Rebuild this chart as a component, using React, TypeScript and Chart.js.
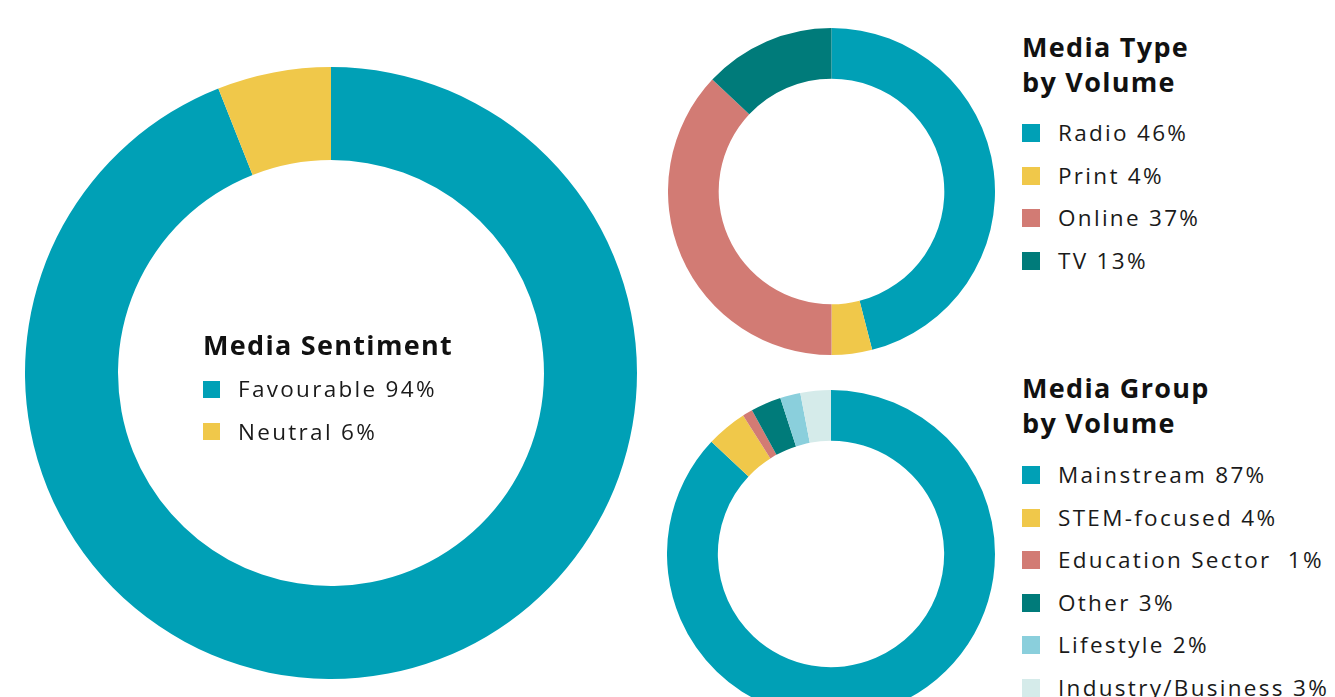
import React, { useEffect, useRef } from "react";
import { Chart, registerables } from "chart.js";

Chart.register(...registerables);

const sentimentLabels = ["Favourable", "Neutral"];
const sentimentValues = [94, 6];
const sentimentColors = ["#00A0B6", "#F0C84A"];

const typeLabels = ["Radio", "Print", "Online", "TV"];
const typeValues = [46, 4, 37, 13];
const typeColors = ["#00A0B6", "#F0C84A", "#D27B74", "#007B7A"];

const groupLabels = ["Mainstream", "STEM-focused", "Education Sector ", "Other", "Lifestyle", "Industry/Business"];
const groupValues = [87, 4, 1, 3, 2, 3];
const groupColors = ["#00A0B6", "#F0C84A", "#D27B74", "#007B7A", "#8ACFDC", "#D5EBEA"];

const FONT = "'Open Sans', sans-serif";

function Donut(props: {
  labels: string[];
  values: number[];
  colors: string[];
  left: number;
  top: number;
  size: number;
  cutout: string;
}) {
  const ref = useRef<HTMLCanvasElement | null>(null);
  useEffect(() => {
    if (!ref.current) return;
    const chart = new Chart(ref.current, {
      type: "doughnut",
      data: {
        labels: props.labels,
        datasets: [
          {
            data: props.values,
            backgroundColor: props.colors,
            borderWidth: 0,
          },
        ],
      },
      options: {
        responsive: false,
        maintainAspectRatio: false,
        animation: false,
        cutout: props.cutout,
        layout: { padding: 0 },
        plugins: { legend: { display: false }, tooltip: { enabled: false } },
      },
    });
    return () => chart.destroy();
  }, []);
  return (
    <canvas
      ref={ref}
      width={props.size}
      height={props.size}
      style={{ position: "absolute", left: props.left, top: props.top, width: props.size, height: props.size }}
    />
  );
}

function Legend(props: {
  left: number;
  titleLines: string[];
  titleCenters: number[];
  labels: string[];
  values: number[];
  colors: string[];
  rowStart: number;
  rowStep: number;
  textLeft: number;
  square: number;
}) {
  const items: React.ReactNode[] = [];
  props.titleLines.forEach((t, i) => {
    items.push(
      <div
        key={"t" + i}
        style={{
          position: "absolute",
          left: props.left,
          top: props.titleCenters[i] - 18,
          height: 36,
          lineHeight: "36px",
          fontFamily: FONT,
          fontWeight: 700,
          fontSize: 27,
          letterSpacing: 1.3,
          color: "#111",
          whiteSpace: "pre",
        }}
      >
        {t}
      </div>
    );
  });
  props.labels.forEach((l, i) => {
    const cy = props.rowStart + i * props.rowStep;
    items.push(
      <div
        key={"s" + i}
        style={{
          position: "absolute",
          left: props.left,
          top: cy - props.square / 2,
          width: props.square,
          height: props.square,
          background: props.colors[i],
        }}
      />
    );
    items.push(
      <div
        key={"l" + i}
        style={{
          position: "absolute",
          left: props.textLeft,
          top: cy - 16,
          height: 32,
          lineHeight: "32px",
          fontFamily: FONT,
          fontSize: 22.5,
          letterSpacing: 2.3,
          color: "#1a1a1a",
          whiteSpace: "pre",
        }}
      >
        {l + " " + props.values[i] + "%"}
      </div>
    );
  });
  return <>{items}</>;
}

export default function App() {
  return (
    <div
      style={{
        position: "fixed",
        left: 0,
        top: 0,
        width: 1335,
        height: 697,
        overflow: "hidden",
        background: "#ffffff",
      }}
    >
      <Donut labels={sentimentLabels} values={sentimentValues} colors={sentimentColors} left={25} top={67} size={612} cutout="69.6%" />
      <Donut labels={typeLabels} values={typeValues} colors={typeColors} left={668} top={28} size={327} cutout="69%" />
      <Donut labels={groupLabels} values={groupValues} colors={groupColors} left={667} top={390} size={328} cutout="69%" />
      <Legend
        left={203}
        titleLines={["Media Sentiment"]}
        titleCenters={[345]}
        labels={sentimentLabels}
        values={sentimentValues}
        colors={sentimentColors}
        rowStart={389}
        rowStep={42.5}
        textLeft={238}
        square={17}
      />
      <Legend
        left={1022}
        titleLines={["Media Type", "by Volume"]}
        titleCenters={[47, 82]}
        labels={typeLabels}
        values={typeValues}
        colors={typeColors}
        rowStart={133}
        rowStep={42.7}
        textLeft={1058}
        square={18}
      />
      <Legend
        left={1022}
        titleLines={["Media Group", "by Volume"]}
        titleCenters={[388, 423]}
        labels={groupLabels}
        values={groupValues}
        colors={groupColors}
        rowStart={475}
        rowStep={42.6}
        textLeft={1058}
        square={18}
      />
    </div>
  );
}
